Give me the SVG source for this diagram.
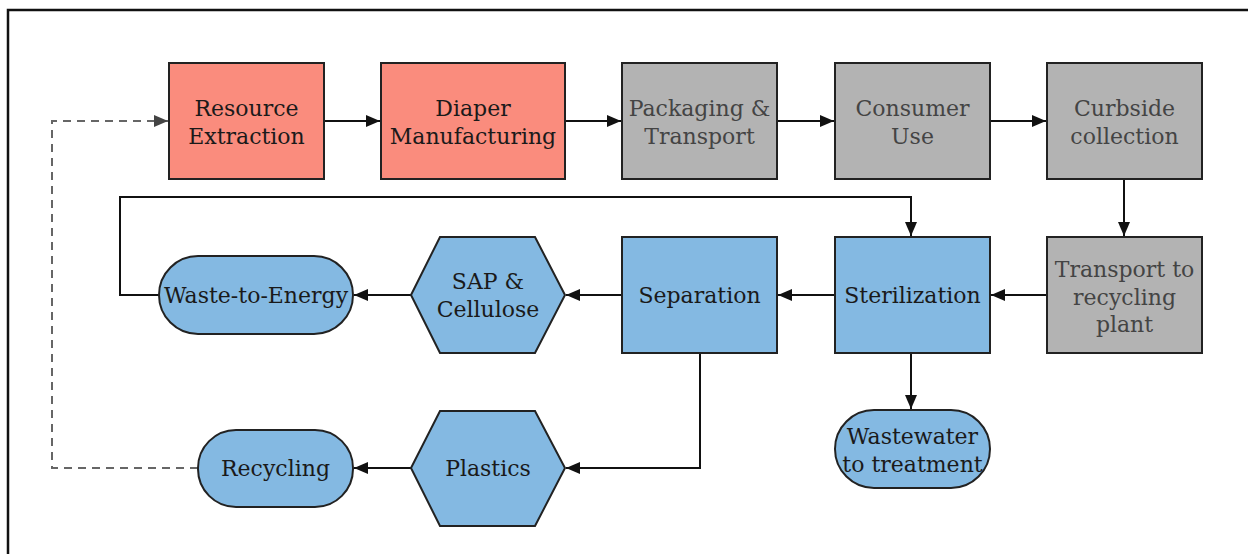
<svg xmlns="http://www.w3.org/2000/svg" width="1248" height="554" viewBox="0 0 1248 554">
<defs>
<style>
.frame{fill:none;stroke:#111;stroke-width:2.5}
.red{fill:#FA8C7D;stroke:#222;stroke-width:2}
.gray{fill:#B3B3B3;stroke:#222;stroke-width:2}
.blue{fill:#84B9E2;stroke:#222;stroke-width:2}
text{font-family:"DejaVu Serif","Liberation Serif",serif;font-size:22px;text-anchor:middle}
.dk{fill:#1a1a1a}
.gt{fill:#444}
.edge{fill:none;stroke:#111;stroke-width:2}
.dash{fill:none;stroke:#666;stroke-width:2;stroke-dasharray:8,6}
</style>
<marker id="ah" viewBox="0 0 14 12" refX="14" refY="6" markerWidth="14" markerHeight="12" markerUnits="userSpaceOnUse" orient="auto">
<path d="M0,0 L14,6 L0,12 z" fill="#111"/>
</marker>
<marker id="ahg" viewBox="0 0 14 12" refX="14" refY="6" markerWidth="14" markerHeight="12" markerUnits="userSpaceOnUse" orient="auto">
<path d="M0,0 L14,6 L0,12 z" fill="#444"/>
</marker>
</defs>
<rect width="1248" height="554" fill="#fff"/>
<rect class="frame" x="8" y="10" width="1260" height="600"/>
<g id="connectors">
<path class="edge" d="M324,121 H380" marker-end="url(#ah)"/>
<path class="edge" d="M565,121 H621" marker-end="url(#ah)"/>
<path class="edge" d="M777,121 H834" marker-end="url(#ah)"/>
<path class="edge" d="M990,121 H1046" marker-end="url(#ah)"/>
<path class="edge" d="M1124,179 V236" marker-end="url(#ah)"/>
<path class="edge" d="M1047,295 H991" marker-end="url(#ah)"/>
<path class="edge" d="M835,295 H778" marker-end="url(#ah)"/>
<path class="edge" d="M622,295 H566" marker-end="url(#ah)"/>
<path class="edge" d="M411,295 H354" marker-end="url(#ah)"/>
<path class="edge" d="M159,295 H120 V197 H911 V236" marker-end="url(#ah)"/>
<path class="edge" d="M911,353 V409" marker-end="url(#ah)"/>
<path class="edge" d="M700,353 V468 H566" marker-end="url(#ah)"/>
<path class="edge" d="M411,468 H354" marker-end="url(#ah)"/>
<path class="dash" d="M198,468 H52 V121 H168" marker-end="url(#ahg)"/>
</g>
<g id="resource-extraction">
<rect class="red" x="169" y="63" width="155" height="116"/>
<text class="dk" x="246.5" y="116">Resource</text>
<text class="dk" x="246.5" y="144">Extraction</text>
</g>
<g id="diaper-manufacturing">
<rect class="red" x="381" y="63" width="184" height="116"/>
<text class="dk" x="473" y="116">Diaper</text>
<text class="dk" x="473" y="144">Manufacturing</text>
</g>
<g id="packaging-transport">
<rect class="gray" x="622" y="63" width="155" height="116"/>
<text class="gt" x="699.5" y="116">Packaging &amp;</text>
<text class="gt" x="699.5" y="144">Transport</text>
</g>
<g id="consumer-use">
<rect class="gray" x="835" y="63" width="155" height="116"/>
<text class="gt" x="912.5" y="116">Consumer</text>
<text class="gt" x="912.5" y="144">Use</text>
</g>
<g id="curbside-collection">
<rect class="gray" x="1047" y="63" width="155" height="116"/>
<text class="gt" x="1124.5" y="116">Curbside</text>
<text class="gt" x="1124.5" y="144">collection</text>
</g>
<g id="transport-recycling">
<rect class="gray" x="1047" y="237" width="155" height="116"/>
<text class="gt" x="1124.5" y="277">Transport to</text>
<text class="gt" x="1124.5" y="305">recycling</text>
<text class="gt" x="1124.5" y="332">plant</text>
</g>
<g id="sterilization">
<rect class="blue" x="835" y="237" width="155" height="116"/>
<text class="dk" x="912.5" y="303">Sterilization</text>
</g>
<g id="separation">
<rect class="blue" x="622" y="237" width="155" height="116"/>
<text class="dk" x="699.5" y="303">Separation</text>
</g>
<g id="sap-cellulose">
<polygon class="blue" points="411,295 440,237 535,237 565,295 535,353 440,353"/>
<text class="dk" x="488" y="289">SAP &amp;</text>
<text class="dk" x="488" y="317">Cellulose</text>
</g>
<g id="waste-to-energy">
<rect class="blue" x="159" y="256" width="194" height="78" rx="39" ry="39"/>
<text class="dk" x="256" y="303">Waste-to-Energy</text>
</g>
<g id="wastewater">
<rect class="blue" x="835" y="410" width="155" height="78" rx="39" ry="39"/>
<text class="dk" x="912.5" y="444">Wastewater</text>
<text class="dk" x="912.5" y="472">to treatment</text>
</g>
<g id="plastics">
<polygon class="blue" points="411,468 440,411 535,411 565,468 535,526 440,526"/>
<text class="dk" x="488" y="476">Plastics</text>
</g>
<g id="recycling">
<rect class="blue" x="198" y="430" width="155" height="77" rx="38" ry="38"/>
<text class="dk" x="275.5" y="476">Recycling</text>
</g>
</svg>
